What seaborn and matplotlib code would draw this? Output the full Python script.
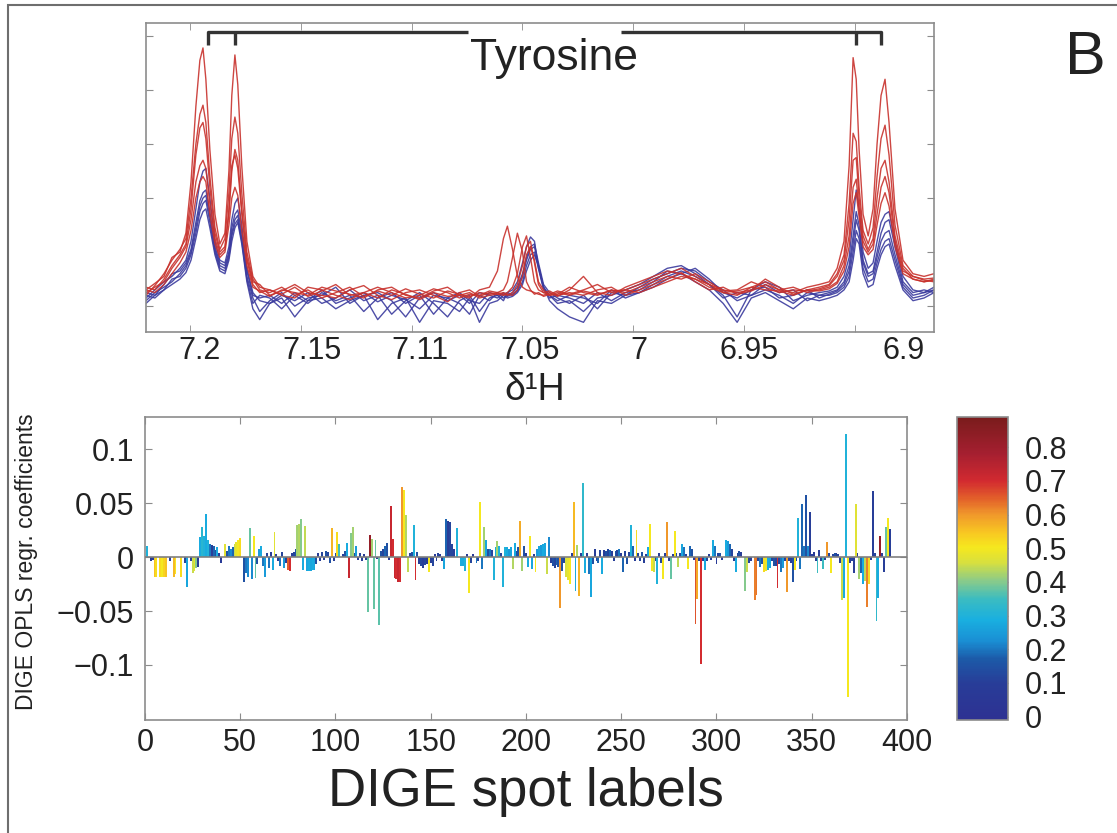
"""
    plot.py
    NMR tyrosine region (top) and DIGE OPLS coefficients coloured by correlation (bottom).
"""
import numpy as np
import pandas as pd
import seaborn as sns
import matplotlib.pyplot as plt
from matplotlib.colors import LinearSegmentedColormap, Normalize
from matplotlib.cm import ScalarMappable
from matplotlib.patches import Rectangle

#################################################################################
# Data
#################################################################################

# Chemical shift grid (ppm), shared by all spectra.
ppm = [7.2198, 7.2158, 7.2117, 7.2081, 7.2045, 7.2018, 7.1995, 7.1973, 7.1955, 7.1941,
       7.1928, 7.1910, 7.1887, 7.1865, 7.1842, 7.1824, 7.1811, 7.1797, 7.1784, 7.1766,
       7.1743, 7.1716, 7.1685, 7.1640, 7.1586, 7.1527, 7.1468, 7.1405, 7.1342, 7.1279,
       7.1216, 7.1153, 7.1090, 7.1027, 7.0964, 7.0901, 7.0838, 7.0784, 7.0739, 7.0694,
       7.0649, 7.0613, 7.0586, 7.0568, 7.0545, 7.0523, 7.0500, 7.0482, 7.0464, 7.0446,
       7.0428, 7.0405, 7.0378, 7.0342, 7.0288, 7.0225, 7.0162, 7.0099, 7.0036, 6.9973,
       6.9910, 6.9847, 6.9784, 6.9721, 6.9658, 6.9595, 6.9532, 6.9468, 6.9405, 6.9342,
       6.9279, 6.9216, 6.9162, 6.9117, 6.9081, 6.9050, 6.9027, 6.9009, 6.8995, 6.8982,
       6.8964, 6.8941, 6.8919, 6.8901, 6.8883, 6.8865, 6.8847, 6.8820, 6.8784, 6.8739,
       6.8689, 6.8644]

# Spectra, high-intensity group (red).
red_1 = [0.30, 0.42, 0.55, 0.90, 1.00, 1.35, 2.30, 3.70, 4.55, 4.78, 4.20, 2.90, 1.70, 1.15, 1.35, 2.50, 3.90, 4.65, 4.10, 2.60, 1.20, 0.55, 0.35,
         0.30, 0.22, 0.35, 0.18, 0.28, 0.40, 0.20, 0.25, 0.15, 0.30, 0.22, 0.12, 0.25, 0.18, 0.20, 0.15, 0.30, 0.35,
         0.65, 1.25, 1.48, 1.05, 0.55, 0.35, 0.30, 0.28, 0.25, 0.22, 0.20, 0.25, 0.18,
         0.30, 0.55, 0.25, 0.20, 0.35, 0.45, 0.55, 0.65, 0.60, 0.50, 0.35, 0.25, 0.20, 0.35, 0.45, 0.30, 0.25, 0.35, 0.40,
         0.45, 0.70, 1.20, 2.60, 4.60, 4.20, 2.90, 1.70, 1.30, 1.80, 3.00, 3.90, 4.20, 3.40, 1.80, 0.85, 0.60, 0.55, 0.60]
red_2 = [0.20, 0.38, 0.60, 0.85, 1.05, 1.25, 2.00, 3.00, 3.55, 3.72, 3.40, 2.40, 1.45, 1.05, 1.25, 2.10, 3.10, 3.50, 3.20, 2.10, 1.00, 0.50, 0.30,
         0.25, 0.35, 0.20, 0.30, 0.15, 0.25, 0.35, 0.18, 0.28, 0.20, 0.32, 0.22, 0.15, 0.28, 0.22, 0.18, 0.25, 0.22,
         0.25, 0.30, 0.45, 0.90, 1.35, 1.00, 0.45, 0.30, 0.22, 0.25, 0.18, 0.22, 0.28,
         0.22, 0.30, 0.40, 0.25, 0.30, 0.40, 0.50, 0.60, 0.70, 0.55, 0.40, 0.30, 0.25, 0.30, 0.50, 0.35, 0.22, 0.30, 0.35,
         0.40, 0.60, 0.95, 1.90, 3.20, 3.05, 2.20, 1.40, 1.15, 1.45, 2.40, 3.10, 3.35, 2.80, 1.50, 0.75, 0.55, 0.50, 0.52]
red_3 = [0.35, 0.30, 0.50, 0.75, 0.95, 1.15, 1.80, 2.80, 3.30, 3.40, 3.10, 2.20, 1.35, 1.00, 1.10, 1.70, 2.50, 2.90, 2.70, 1.80, 0.90, 0.45, 0.40,
         0.20, 0.28, 0.40, 0.25, 0.20, 0.15, 0.30, 0.38, 0.20, 0.12, 0.25, 0.30, 0.20, 0.08, 0.25, 0.30, 0.18, 0.25,
         0.22, 0.20, 0.25, 0.35, 0.60, 1.10, 1.30, 0.90, 0.45, 0.30, 0.25, 0.20, 0.22,
         0.35, 0.25, 0.20, 0.30, 0.25, 0.35, 0.45, 0.55, 0.50, 0.60, 0.45, 0.28, 0.30, 0.45, 0.35, 0.25, 0.30, 0.28, 0.32,
         0.38, 0.55, 0.85, 1.60, 2.70, 2.75, 2.00, 1.30, 1.05, 1.25, 2.00, 2.55, 2.70, 2.30, 1.30, 0.70, 0.50, 0.45, 0.48]
red_4 = [0.25, 0.35, 0.45, 0.70, 0.90, 1.10, 1.60, 2.30, 2.60, 2.70, 2.55, 1.90, 1.25, 0.95, 1.05, 1.80, 2.60, 2.80, 2.55, 1.70, 0.85, 0.40, 0.25,
         0.30, 0.20, 0.15, 0.35, 0.30, 0.20, 0.12, 0.25, 0.35, 0.25, 0.15, 0.20, 0.32, 0.25, 0.15, 0.22, 0.20, 0.28,
         0.25, 0.22, 0.20, 0.25, 0.40, 0.75, 1.10, 1.20, 0.80, 0.40, 0.25, 0.28, 0.20,
         0.25, 0.20, 0.30, 0.35, 0.20, 0.30, 0.40, 0.50, 0.62, 0.45, 0.30, 0.35, 0.22, 0.28, 0.40, 0.30, 0.35, 0.25, 0.30,
         0.35, 0.45, 0.75, 1.30, 2.20, 2.35, 1.80, 1.20, 1.00, 1.15, 1.70, 2.20, 2.40, 2.10, 1.20, 0.65, 0.55, 0.48, 0.45]
red_5 = [0.30, 0.25, 0.40, 0.60, 0.80, 1.00, 1.40, 2.00, 2.30, 2.40, 2.30, 1.70, 1.15, 0.90, 1.00, 1.50, 2.00, 2.20, 2.05, 1.40, 0.75, 0.35, 0.28,
         0.18, 0.30, 0.25, 0.20, 0.35, 0.28, 0.22, 0.15, 0.30, 0.35, 0.20, 0.15, 0.28, 0.35, 0.20, 0.25, 0.15, 0.20,
         0.22, 0.25, 0.22, 0.20, 0.30, 0.55, 0.95, 1.10, 0.85, 0.45, 0.30, 0.20, 0.25,
         0.20, 0.28, 0.22, 0.28, 0.30, 0.25, 0.35, 0.45, 0.55, 0.50, 0.40, 0.25, 0.28, 0.35, 0.30, 0.28, 0.20, 0.30, 0.28,
         0.32, 0.42, 0.65, 1.10, 1.90, 2.10, 1.65, 1.10, 0.95, 1.05, 1.50, 1.90, 2.10, 1.85, 1.10, 0.60, 0.50, 0.45, 0.50]

# Spectra, low-intensity group (blue).
blue_1 = [0.15, 0.30, 0.45, 0.55, 0.70, 0.85, 1.20, 1.80, 2.30, 2.50, 2.55, 2.00, 1.20, 0.85, 0.80, 1.10, 1.60, 1.90, 2.00, 1.50, 0.70, 0.25, 0.10,
          0.05, 0.20, 0.10, 0.25, 0.05, 0.15, 0.30, 0.10, 0.20, -0.15, 0.10, 0.25, 0.05, -0.20, 0.10, 0.20, -0.10, 0.15,
          0.20, 0.22, 0.25, 0.30, 0.45, 0.80, 1.10, 1.28, 1.20, 0.70, 0.35, 0.20, 0.05,
          0.10, -0.10, 0.15, 0.20, 0.30, 0.40, 0.55, 0.70, 0.75, 0.60, 0.40, 0.20, -0.20, 0.30, 0.45, 0.35, 0.10, 0.20, 0.25,
          0.28, 0.35, 0.55, 0.90, 1.60, 2.15, 1.80, 1.00, 0.70, 0.80, 1.20, 1.55, 1.70, 1.75, 1.20, 0.55, 0.30, 0.25, 0.30]
blue_2 = [0.25, 0.20, 0.40, 0.60, 0.65, 0.80, 1.05, 1.55, 1.95, 2.10, 2.15, 1.75, 1.10, 0.80, 0.75, 1.00, 1.45, 1.70, 1.78, 1.35, 0.65, 0.20, 0.15,
          0.20, 0.05, 0.25, 0.10, 0.30, 0.05, 0.15, 0.25, 0.08, 0.20, 0.12, -0.05, 0.20, 0.15, 0.05, -0.15, 0.20, 0.10,
          0.25, 0.15, 0.20, 0.25, 0.35, 0.60, 0.90, 1.10, 1.15, 0.80, 0.40, 0.25, 0.15,
          0.05, 0.20, -0.05, 0.25, 0.20, 0.35, 0.50, 0.60, 0.70, 0.65, 0.45, 0.30, 0.10, 0.20, 0.40, 0.25, 0.30, 0.10, 0.20,
          0.25, 0.30, 0.45, 0.75, 1.30, 1.75, 1.50, 0.85, 0.60, 0.65, 1.00, 1.35, 1.55, 1.60, 1.10, 0.45, 0.25, 0.30, 0.25]
blue_3 = [0.10, 0.25, 0.35, 0.45, 0.60, 0.75, 1.00, 1.45, 1.85, 2.00, 2.05, 1.65, 1.05, 0.75, 0.70, 0.95, 1.35, 1.60, 1.68, 1.25, 0.55, 0.15, -0.10,
          0.10, 0.25, 0.00, 0.15, 0.20, 0.35, 0.05, 0.20, 0.25, 0.10, -0.20, 0.15, 0.25, 0.10, 0.20, 0.05, 0.25, 0.20,
          0.15, 0.25, 0.18, 0.22, 0.30, 0.55, 0.85, 1.05, 1.10, 0.75, 0.35, 0.15, 0.20,
          0.15, 0.05, 0.25, 0.10, 0.25, 0.30, 0.45, 0.65, 0.60, 0.70, 0.50, 0.25, 0.15, 0.30, 0.35, 0.15, 0.20, 0.30, 0.15,
          0.22, 0.28, 0.40, 0.65, 1.15, 1.60, 1.40, 0.80, 0.55, 0.60, 0.90, 1.20, 1.35, 1.40, 0.95, 0.40, 0.20, 0.25, 0.35]
blue_4 = [0.20, 0.15, 0.30, 0.50, 0.55, 0.70, 0.95, 1.35, 1.75, 1.90, 1.96, 1.55, 1.00, 0.70, 0.65, 0.90, 1.30, 1.52, 1.60, 1.20, 0.50, 0.05, 0.20,
          0.15, -0.05, 0.20, 0.05, 0.25, 0.10, 0.20, -0.10, 0.15, 0.25, 0.05, 0.20, -0.15, 0.15, 0.25, 0.10, 0.05, 0.25,
          0.20, 0.10, 0.25, 0.20, 0.28, 0.45, 0.75, 0.95, 1.00, 0.70, 0.30, 0.20, 0.10,
          0.20, 0.15, 0.05, 0.30, 0.15, 0.25, 0.40, 0.55, 0.65, 0.55, 0.40, 0.15, 0.25, 0.20, 0.30, 0.20, 0.05, 0.25, 0.20,
          0.20, 0.25, 0.35, 0.55, 1.00, 1.40, 1.25, 0.70, 0.45, 0.50, 0.80, 1.05, 1.20, 1.25, 0.85, 0.35, 0.15, 0.20, 0.30]
blue_5 = [0.05, 0.20, 0.30, 0.40, 0.50, 0.62, 0.85, 1.25, 1.60, 1.75, 1.80, 1.45, 0.95, 0.65, 0.60, 0.85, 1.20, 1.45, 1.55, 1.15, 0.45, -0.05, -0.25,
          0.05, 0.15, -0.20, 0.10, 0.15, -0.05, 0.10, 0.20, -0.25, 0.05, 0.15, -0.30, 0.10, 0.05, -0.10, 0.15, -0.30, 0.05,
          0.10, 0.20, 0.15, 0.18, 0.25, 0.40, 0.65, 0.85, 0.95, 0.75, 0.35, 0.10, -0.05,
          -0.20, -0.30, 0.10, 0.05, 0.20, 0.25, 0.35, 0.50, 0.60, 0.45, 0.30, 0.05, -0.30, 0.15, 0.25, 0.10, -0.05, 0.15, 0.10,
          0.15, 0.20, 0.30, 0.45, 0.85, 1.25, 1.15, 0.60, 0.35, 0.40, 0.70, 0.95, 1.10, 1.15, 0.75, 0.30, 0.10, 0.15, 0.25]

# DIGE OPLS regression coefficients for spots 1..391.
coef = [0.010, 0.0, -0.004, -0.003, -0.018, -0.018, 0.0, -0.018, -0.018, -0.018,
        -0.018, 0.0, -0.004, 0.0, -0.018, -0.016, 0.0, 0.0, -0.018, 0.0,
        -0.005, -0.028, 0.0, -0.004, -0.015, -0.013, -0.010, -0.009, 0.019, 0.028,
        0.020, 0.040, 0.016, 0.012, 0.011, 0.010, 0.007, 0.009, 0.004, -0.005,
        0.0, 0.012, 0.006, 0.010, 0.008, 0.009, 0.012, 0.014, 0.016, 0.018,
        0.0, -0.023, -0.015, -0.018, 0.027, -0.020, 0.020, -0.019, -0.006, 0.008,
        0.010, -0.008, -0.018, 0.004, -0.010, 0.005, -0.012, 0.023, 0.003, -0.004,
        -0.008, 0.005, -0.010, -0.005, -0.012, -0.013, 0.004, 0.005, 0.008, 0.030,
        0.031, 0.035, -0.012, 0.029, -0.013, -0.013, -0.013, -0.012, -0.012, -0.006,
        0.004, -0.004, 0.005, -0.003, 0.006, 0.005, -0.005, 0.027, -0.004, 0.004,
        0.023, 0.012, 0.0, 0.003, 0.006, 0.013, -0.019, 0.022, 0.028, 0.004,
        0.010, -0.003, 0.004, -0.004, 0.003, -0.003, -0.051, 0.021, 0.017, -0.048,
        0.016, -0.002, -0.063, 0.006, 0.008, 0.010, 0.013, -0.003, 0.047, 0.017,
        -0.019, -0.020, -0.023, -0.023, 0.065, 0.062, 0.039, -0.014, 0.004, 0.005,
        0.030, -0.021, 0.005, -0.006, -0.008, -0.010, -0.007, -0.006, -0.014, -0.005,
        -0.008, 0.003, -0.004, 0.004, 0.003, -0.004, -0.011, 0.035, 0.034, 0.033,
        0.012, 0.008, 0.0, 0.027, 0.0, -0.008, -0.008, -0.013, 0.003, -0.033,
        -0.005, 0.003, 0.0, -0.005, -0.004, 0.051, -0.011, 0.028, 0.016, 0.008,
        0.008, 0.007, -0.021, 0.009, 0.015, 0.010, 0.004, -0.028, 0.009, 0.009,
        0.008, 0.009, -0.011, 0.013, 0.006, 0.009, 0.034, -0.013, 0.010, 0.004,
        -0.009, 0.020, -0.011, 0.003, -0.014, 0.008, 0.010, 0.011, 0.012, 0.013,
        -0.016, 0.019, -0.005, -0.008, -0.010, -0.007, -0.009, -0.047, -0.013, -0.005,
        -0.018, -0.021, -0.025, 0.004, 0.051, -0.031, 0.011, -0.036, 0.004, 0.069,
        -0.015, 0.004, -0.016, -0.037, -0.006, 0.008, -0.004, -0.005, 0.007, -0.016,
        0.007, 0.006, 0.008, 0.007, 0.006, -0.004, 0.006, 0.007, 0.008, 0.004,
        -0.014, 0.006, -0.006, 0.005, 0.030, 0.010, -0.004, 0.025, 0.004, -0.004,
        0.005, -0.005, 0.003, 0.009, 0.031, -0.013, -0.014, -0.004, -0.025, 0.004,
        -0.005, -0.020, 0.004, 0.033, -0.004, -0.020, 0.003, 0.024, 0.004, -0.009,
        0.004, 0.012, 0.009, 0.003, -0.011, 0.010, 0.008, -0.003, -0.062, -0.039,
        -0.004, -0.099, -0.004, -0.012, -0.004, 0.003, -0.003, 0.016, 0.010, -0.006,
        0.004, 0.004, -0.003, 0.0, 0.016, 0.015, 0.012, 0.008, -0.004, -0.014,
        0.004, 0.006, 0.005, 0.0, -0.031, -0.014, -0.005, -0.004, 0.0, -0.040,
        -0.035, -0.004, -0.009, -0.006, -0.014, -0.013, -0.012, -0.010, -0.004, -0.008,
        -0.008, -0.029, -0.006, -0.014, -0.010, -0.004, -0.032, -0.004, -0.005, -0.023,
        -0.012, -0.004, 0.036, -0.011, 0.049, 0.010, 0.058, 0.010, 0.042, 0.003,
        0.005, -0.004, -0.015, 0.007, -0.004, -0.011, -0.003, 0.014, 0.004, -0.015,
        0.003, 0.004, 0.004, 0.003, -0.005, -0.040, -0.038, 0.114, -0.130, -0.005,
        -0.004, -0.015, 0.049, 0.004, -0.020, -0.015, -0.025, -0.022, -0.046, -0.025,
        -0.003, 0.061, 0.004, -0.059, -0.038, 0.020, 0.004, -0.014, 0.028, 0.036, 0.026]

# Colour value (correlation) of each spot, same order.
colour_val = [0.30, 0.10, 0.08, 0.10, 0.55, 0.52, 0.10, 0.52, 0.50, 0.53,
              0.55, 0.10, 0.10, 0.10, 0.56, 0.50, 0.10, 0.10, 0.52, 0.10,
              0.12, 0.27, 0.10, 0.10, 0.45, 0.48, 0.40, 0.08, 0.28, 0.32,
              0.30, 0.28, 0.30, 0.20, 0.10, 0.18, 0.15, 0.28, 0.10, 0.08,
              0.10, 0.47, 0.15, 0.20, 0.22, 0.18, 0.45, 0.48, 0.50, 0.52,
              0.10, 0.15, 0.20, 0.22, 0.38, 0.22, 0.50, 0.38, 0.15, 0.25,
              0.28, 0.20, 0.25, 0.12, 0.20, 0.10, 0.28, 0.47, 0.10, 0.10,
              0.20, 0.12, 0.25, 0.10, 0.65, 0.70, 0.10, 0.12, 0.15, 0.42,
              0.43, 0.40, 0.28, 0.44, 0.27, 0.28, 0.27, 0.28, 0.27, 0.15,
              0.10, 0.10, 0.12, 0.10, 0.15, 0.12, 0.15, 0.57, 0.10, 0.12,
              0.52, 0.35, 0.10, 0.10, 0.15, 0.28, 0.72, 0.40, 0.42, 0.15,
              0.25, 0.10, 0.12, 0.10, 0.08, 0.10, 0.38, 0.82, 0.42, 0.38,
              0.38, 0.10, 0.37, 0.15, 0.12, 0.18, 0.15, 0.10, 0.72, 0.70,
              0.72, 0.70, 0.72, 0.70, 0.60, 0.50, 0.43, 0.44, 0.12, 0.15,
              0.30, 0.70, 0.15, 0.10, 0.12, 0.10, 0.12, 0.08, 0.50, 0.10,
              0.12, 0.08, 0.10, 0.12, 0.10, 0.10, 0.27, 0.18, 0.10, 0.12,
              0.12, 0.10, 0.10, 0.30, 0.10, 0.28, 0.28, 0.30, 0.10, 0.50,
              0.12, 0.08, 0.10, 0.20, 0.12, 0.50, 0.20, 0.42, 0.27, 0.15,
              0.20, 0.12, 0.30, 0.28, 0.42, 0.30, 0.12, 0.30, 0.30, 0.28,
              0.25, 0.27, 0.43, 0.28, 0.15, 0.15, 0.58, 0.42, 0.15, 0.10,
              0.28, 0.50, 0.27, 0.10, 0.50, 0.25, 0.27, 0.25, 0.28, 0.27,
              0.45, 0.22, 0.10, 0.15, 0.12, 0.18, 0.15, 0.60, 0.15, 0.12,
              0.46, 0.48, 0.50, 0.10, 0.56, 0.28, 0.43, 0.57, 0.10, 0.33,
              0.28, 0.10, 0.20, 0.27, 0.15, 0.10, 0.12, 0.18, 0.12, 0.28,
              0.10, 0.15, 0.12, 0.18, 0.10, 0.10, 0.15, 0.12, 0.20, 0.10,
              0.18, 0.12, 0.15, 0.12, 0.30, 0.18, 0.10, 0.52, 0.12, 0.12,
              0.15, 0.10, 0.10, 0.28, 0.50, 0.50, 0.45, 0.10, 0.30, 0.10,
              0.12, 0.50, 0.10, 0.60, 0.10, 0.38, 0.10, 0.50, 0.12, 0.44,
              0.12, 0.27, 0.20, 0.10, 0.50, 0.18, 0.15, 0.10, 0.66, 0.58,
              0.10, 0.70, 0.10, 0.28, 0.12, 0.10, 0.10, 0.28, 0.20, 0.08,
              0.12, 0.15, 0.10, 0.10, 0.28, 0.25, 0.18, 0.12, 0.10, 0.28,
              0.12, 0.15, 0.10, 0.10, 0.40, 0.45, 0.12, 0.10, 0.10, 0.62,
              0.63, 0.12, 0.20, 0.15, 0.52, 0.48, 0.28, 0.27, 0.12, 0.15,
              0.12, 0.70, 0.12, 0.20, 0.25, 0.10, 0.60, 0.12, 0.10, 0.15,
              0.50, 0.12, 0.30, 0.20, 0.18, 0.20, 0.15, 0.22, 0.10, 0.10,
              0.08, 0.10, 0.35, 0.10, 0.12, 0.35, 0.10, 0.60, 0.12, 0.50,
              0.12, 0.15, 0.10, 0.12, 0.10, 0.45, 0.28, 0.30, 0.50, 0.10,
              0.12, 0.10, 0.47, 0.10, 0.42, 0.18, 0.28, 0.44, 0.62, 0.52,
              0.10, 0.10, 0.12, 0.33, 0.28, 0.82, 0.10, 0.10, 0.38, 0.50, 0.10]

spot_labels = np.arange(1, len(coef) + 1)

x_tick_text = ['7.2', '7.15', '7.11', '7.05', '7', '6.95', '6.9']
cbar_ticks = [0, 0.1, 0.2, 0.3, 0.4, 0.5, 0.6, 0.7, 0.8]

#################################################################################
# Style
#################################################################################

sns.set_style('ticks')
plt.rcParams['font.family'] = ['Liberation Sans', 'DejaVu Sans']
plt.rcParams['axes.edgecolor'] = '#8c8c8c'
plt.rcParams['xtick.color'] = '#8c8c8c'
plt.rcParams['ytick.color'] = '#8c8c8c'
plt.rcParams['xtick.labelcolor'] = '#222222'
plt.rcParams['ytick.labelcolor'] = '#222222'

RED = '#c8322d'
BLUE = '#3b3b9e'
TICK_SIZE = 22

# Jet-like colour map as in the colour bar.
cmap = LinearSegmentedColormap.from_list('dige', [
    (0.00, '#2e3192'), (0.12, '#283d98'), (0.20, '#1c5aa8'), (0.26, '#1a8fd4'),
    (0.33, '#19afe0'), (0.40, '#3cbcc0'), (0.46, '#8ccb88'), (0.52, '#d8e03e'),
    (0.57, '#f6e81e'), (0.62, '#f8c622'), (0.68, '#f0972b'), (0.73, '#e3612a'),
    (0.79, '#d22a30'), (0.88, '#a51f30'), (1.00, '#7a1c1c')])
norm = Normalize(vmin=-0.01, vmax=0.89)

fig = plt.figure(figsize=(11.17, 8.33), dpi=100)

#################################################################################
# Top: NMR spectra
#################################################################################

ax1 = fig.add_axes([0.1307, 0.6014, 0.7055, 0.3709])

rows = []
for name, vals in [('red_1', red_1), ('red_2', red_2), ('red_3', red_3),
                   ('red_4', red_4), ('red_5', red_5)]:
    rows.append(pd.DataFrame(dict(ppm=ppm, intensity=vals, sample=name, group='high')))
for name, vals in [('blue_1', blue_1), ('blue_2', blue_2), ('blue_3', blue_3),
                   ('blue_4', blue_4), ('blue_5', blue_5)]:
    rows.append(pd.DataFrame(dict(ppm=ppm, intensity=vals, sample=name, group='low')))
spec_df = pd.concat(rows, ignore_index=True)

sns.lineplot(data=spec_df, x='ppm', y='intensity', hue='group', units='sample',
             estimator=None, hue_order=['low', 'high'],
             palette={'high': RED, 'low': BLUE}, lw=1.0, alpha=0.9,
             legend=False, ax=ax1)

ax1.set_xlim(7.2198, 6.8644)
ax1.set_ylim(-0.48, 5.24)
ax1.set_xlabel('')
ax1.set_ylabel('')

# Tick marks at the real shifts, labels where the original puts them.
ax1.set_xticks([7.20, 7.15, 7.10, 7.05, 7.00, 6.95, 6.90], minor=True)
ax1.set_xticks([7.1955, 7.145, 7.0964, 7.0468, 6.9973, 6.9477, 6.878])
ax1.set_xticklabels(x_tick_text, fontsize=TICK_SIZE)
ax1.tick_params(axis='x', which='major', length=0, pad=3)
ax1.tick_params(axis='x', which='minor', direction='in', length=5, top=True, bottom=True)
ax1.set_yticks([0, 1, 2, 3, 4, 5])
ax1.set_yticklabels([])
ax1.tick_params(axis='y', direction='in', length=5, left=True, right=True)
for s in ax1.spines.values():
    s.set_linewidth(1.2)

# Tyrosine bracket.
br = dict(color='#333333', lw=2.4, solid_capstyle='butt', clip_on=False)
ax1.plot([7.1919, 7.1919, 7.0748], [4.83, 5.07, 5.07], **br)
ax1.plot([7.1797, 7.1797], [4.83, 5.07], **br)
ax1.plot([7.0054, 6.8883, 6.8883], [5.07, 5.07, 4.83], **br)
ax1.plot([6.8995, 6.8995], [4.83, 5.07], **br)
ax1.text(7.0356, 4.58, 'Tyrosine', fontsize=32, ha='center', va='center', color='#222222')

fig.text(535 / 1117, 1 - 390 / 833, 'δ¹H', fontsize=27, ha='center', va='center',
         color='#222222')
fig.text(1085 / 1117, 1 - 58 / 833, 'B', fontsize=44, ha='center', va='center',
         color='#222222')

#################################################################################
# Bottom: DIGE coefficients
#################################################################################

ax2 = fig.add_axes([0.1298, 0.1357, 0.6822, 0.3637])

bar_df = pd.DataFrame(dict(spot=spot_labels, coef=coef, colour=colour_val))
palette = {s: cmap(norm(c)) for s, c in zip(bar_df['spot'], bar_df['colour'])}
sns.barplot(data=bar_df, x='spot', y='coef', hue='spot', palette=palette,
            native_scale=True, dodge=False, legend=False, errorbar=None,
            width=1.0, saturation=1, linewidth=0, ax=ax2)
# Crisp, solid bars as in the print.
for p in ax2.patches:
    p.set_antialiased(False)
ax2.axhline(0, color='#808080', lw=1.2, zorder=3)

ax2.set_xlim(0, 400)
ax2.set_ylim(-0.151, 0.13)
ax2.set_xticks(range(0, 401, 50))
ax2.set_xticklabels([str(v) for v in range(0, 401, 50)], fontsize=TICK_SIZE)
ax2.set_yticks([-0.1, -0.05, 0, 0.05, 0.1])
ax2.set_yticklabels(['\u22120.1', '\u22120.05', '0', '0.05', '0.1'], fontsize=TICK_SIZE)
ax2.tick_params(direction='in', length=5, top=True, right=True)
ax2.tick_params(axis='x', pad=6)
ax2.tick_params(axis='y', pad=8)
ax2.set_xlabel('DIGE spot labels', fontsize=38, color='#222222', labelpad=6)
ax2.set_ylabel('')
for s in ax2.spines.values():
    s.set_linewidth(1.2)

fig.text(27 / 1117, 1 - 562 / 833, 'DIGE OPLS regr. coefficients', fontsize=16.5,
         rotation=90, ha='center', va='center', color='#222222')

# Colour bar.
cax = fig.add_axes([0.8568, 0.1357, 0.0457, 0.3637])
cb = fig.colorbar(ScalarMappable(norm=norm, cmap=cmap), cax=cax, ticks=cbar_ticks)
cb.ax.set_yticklabels(['0', '0.1', '0.2', '0.3', '0.4', '0.5', '0.6', '0.7', '0.8'],
                      fontsize=TICK_SIZE)
cb.ax.yaxis.set_ticks_position('both')
cb.ax.yaxis.set_label_position('right')
cb.ax.tick_params(direction='in', length=4, labelleft=False, labelright=True, pad=12)
cb.outline.set_edgecolor('#8c8c8c')
cb.outline.set_linewidth(1.2)

# Figure frame.
fig.patches.append(Rectangle((8 / 1117, -0.02), 1.05, 1 - 5 / 833 + 0.02,
                             transform=fig.transFigure, fill=False,
                             edgecolor='#6e6e6e', lw=1.5))

plt.savefig('out.png', dpi=100)
